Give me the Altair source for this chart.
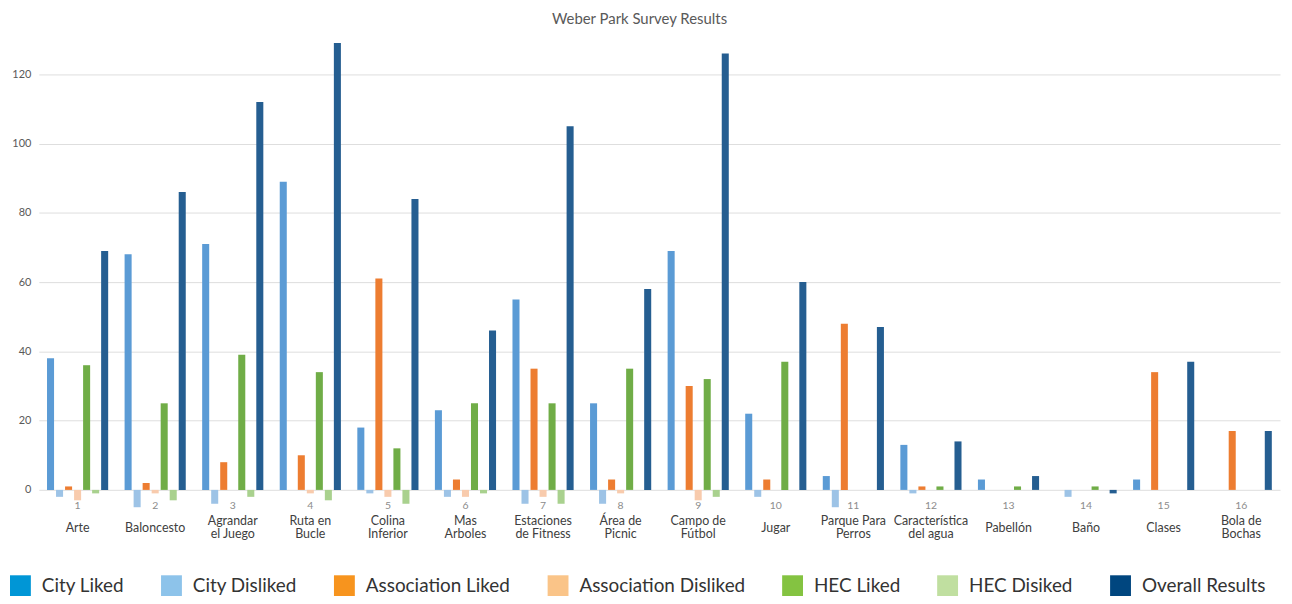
import altair as alt
import pandas as pd

categories = ["Arte", "Baloncesto", "Agrandar|el Juego", "Ruta en|Bucle", "Colina|Inferior",
              "Mas|Arboles", "Estaciones|de Fitness", "Área de|Picnic", "Campo de|Fútbol", "Jugar",
              "Parque Para|Perros", "Característica|del agua", "Pabellón", "Baño", "Clases",
              "Bola de|Bochas"]
cat_numbers = [str(i) for i in range(1, 17)]

series_names = ["City Liked", "City Disliked", "Association Liked", "Association Disliked",
                "HEC Liked", "HEC Disiked", "Overall Results"]

city_liked = [38, 68, 71, 89, 18, 23, 55, 25, 69, 22, 4, 13, 3, 0, 3, 0]
city_disliked = [-2, -5, -4, 0, -1, -2, -4, -4, 0, -2, -5, -1, 0, -2, 0, 0]
association_liked = [1, 2, 8, 10, 61, 3, 35, 3, 30, 3, 48, 1, 0, 0, 34, 17]
association_disliked = [-3, -1, 0, -1, -2, -2, -2, -1, -3, 0, 0, 0, 0, 0, 0, 0]
hec_liked = [36, 25, 39, 34, 12, 25, 25, 35, 32, 37, 0, 1, 1, 1, 0, 0]
hec_disliked = [-1, -3, -2, -3, -4, -1, -4, 0, -2, 0, 0, 0, 0, 0, 0, 0]
overall = [69, 86, 112, 129, 84, 46, 105, 58, 126, 60, 47, 14, 4, -1, 37, 17]

bar_colors = ["#5b9bd5", "#9dc3e6", "#ed7d31", "#f8cbad", "#70ad47", "#a9d18e", "#255e91"]
legend_colors = ["#0096d6", "#8dc3ea", "#f7941e", "#fac488", "#84c341", "#c0dfa0", "#00467f"]

y_ticks = [0, 20, 40, 60, 80, 100, 120]

all_series = [city_liked, city_disliked, association_liked, association_disliked,
              hec_liked, hec_disliked, overall]
rows = []
for name, vals in zip(series_names, all_series):
    for cat, v in zip(categories, vals):
        rows.append({"cat": cat, "series": name, "value": v})
df = pd.DataFrame(rows)
df_num = pd.DataFrame({"cat": categories, "num": cat_numbers})

FONT = "Lato"

x_enc = alt.X("cat:N", sort=categories,
              scale=alt.Scale(domain=categories, paddingInner=0.2, paddingOuter=0.1),
              axis=alt.Axis(title=None, labelAngle=0, ticks=False, domain=False, grid=False,
                            labelExpr="split(datum.label, '|')", labelFontSize=12.5,
                            labelLineHeight=13, labelColor="#404040", labelFont=FONT,
                            labelBaseline="middle",
                            labelPadding={"condition": {"test": "indexof(datum.value, '|') >= 0",
                                                        "value": 10},
                                          "value": 17},
                            labelLimit=200))
y_scale = alt.Scale(domain=[-6, 132], nice=False, zero=False)
y_enc = alt.Y("value:Q", scale=y_scale,
              axis=alt.Axis(title=None, values=y_ticks, ticks=False, domain=False,
                            gridColor="#dedede", gridWidth=1, labelColor="#595959",
                            labelFontSize=11, labelFont=FONT, labelPadding=8))

bars = alt.Chart(df).mark_bar().encode(
    x=x_enc,
    xOffset=alt.XOffset("series:N", sort=series_names,
                        scale=alt.Scale(domain=series_names, paddingInner=0.22, paddingOuter=0.05)),
    y=y_enc,
    color=alt.Color("series:N", scale=alt.Scale(domain=series_names, range=bar_colors), legend=None),
)

nums = alt.Chart(df_num).mark_text(fontSize=10.5, color="#8c8c8c", font=FONT, baseline="middle").encode(
    x=alt.X("cat:N", sort=categories),
    y=alt.datum(-4.6),
    text="num:N",
)

legend_layer = alt.Chart(df).transform_filter("false").mark_square().encode(
    x=alt.X("cat:N", sort=categories),
    y=alt.Y("value:Q"),
    color=alt.Color("series:N", scale=alt.Scale(domain=series_names, range=legend_colors),
                    legend=alt.Legend(title=None, orient="none", direction="horizontal",
                                      legendX=-29, legendY=546, columns=7,
                                      symbolType="square", symbolSize=441, symbolStrokeWidth=0,
                                      symbolOpacity=1, labelFontSize=19, labelFont=FONT,
                                      labelColor="#333333", labelOffset=11, columnPadding=37,
                                      labelLimit=400)),
)

chart = alt.layer(bars, nums, legend_layer).resolve_scale(color="independent").properties(
    width=1249, height=481,
    autosize=alt.AutoSizeParams(type="none"),
    padding={"left": 31, "top": 23, "right": 4, "bottom": 84},
    title=alt.Title("Weber Park Survey Results", fontSize=15, color="#595959", font=FONT,
                    fontWeight="normal", anchor="middle", frame="group", dx=-20, offset=6),
).configure_view(stroke=None)

chart.save("out.html", embed_options={"renderer": "svg", "actions": False})
